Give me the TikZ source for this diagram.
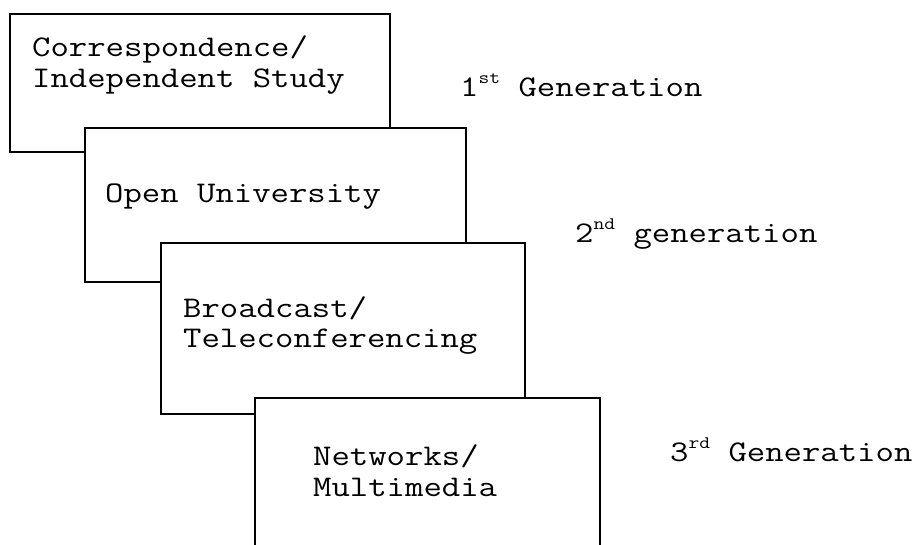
\documentclass[tikz,border=0pt]{standalone}
\usepackage{graphicx}
\tikzset{
  genbox/.style={draw, fill=white, line width=1.6pt, inner sep=0pt, outer sep=0pt, anchor=north west},
  txt/.style={anchor=base west, inner sep=0pt, font=\fontsize{30}{30}\ttfamily\selectfont}
}
\newcommand{\wide}[1]{\scalebox{1.19}[1]{#1}}
\newcommand{\gensup}[1]{\raisebox{13pt}{\fontsize{17.6}{17.6}\selectfont #1}}
\begin{document}
\begin{tikzpicture}[x=1pt,y=-1pt]
\path[use as bounding box, fill=white] (0,0) rectangle (924,545);
\clip (0,0) rectangle (924,545);
% box 1
\node[genbox, minimum width=380pt, minimum height=138pt] (b1) at (10,14) {};
\node[txt] (t1a) at (32,57) {\wide{Correspondence/}};
\node[txt] (t1b) at (32,88) {\wide{Independent Study}};
% box 2
\node[genbox, minimum width=381pt, minimum height=154pt] (b2) at (85,128) {};
\node[txt] (t2) at (105,203) {\wide{Open University}};
% box 3
\node[genbox, minimum width=364pt, minimum height=171pt] (b3) at (161,243) {};
\node[txt] (t3a) at (183,318) {\wide{Broadcast/}};
\node[txt] (t3b) at (183,348) {\wide{Teleconferencing}};
% box 4
\node[genbox, minimum width=345pt, minimum height=200pt] (b4) at (255,398) {};
\node[txt] (t4a) at (313,465) {\wide{Networks/}};
\node[txt] (t4b) at (313,496) {\wide{Multimedia}};
% generation labels
\node[txt] (g1) at (460,97) {\wide{1\gensup{st} Generation}};
\node[txt] (g2) at (575,243) {\wide{2\gensup{nd} generation}};
\node[txt] (g3) at (670,461) {\wide{3\gensup{rd} Generation}};
\end{tikzpicture}
\end{document}
